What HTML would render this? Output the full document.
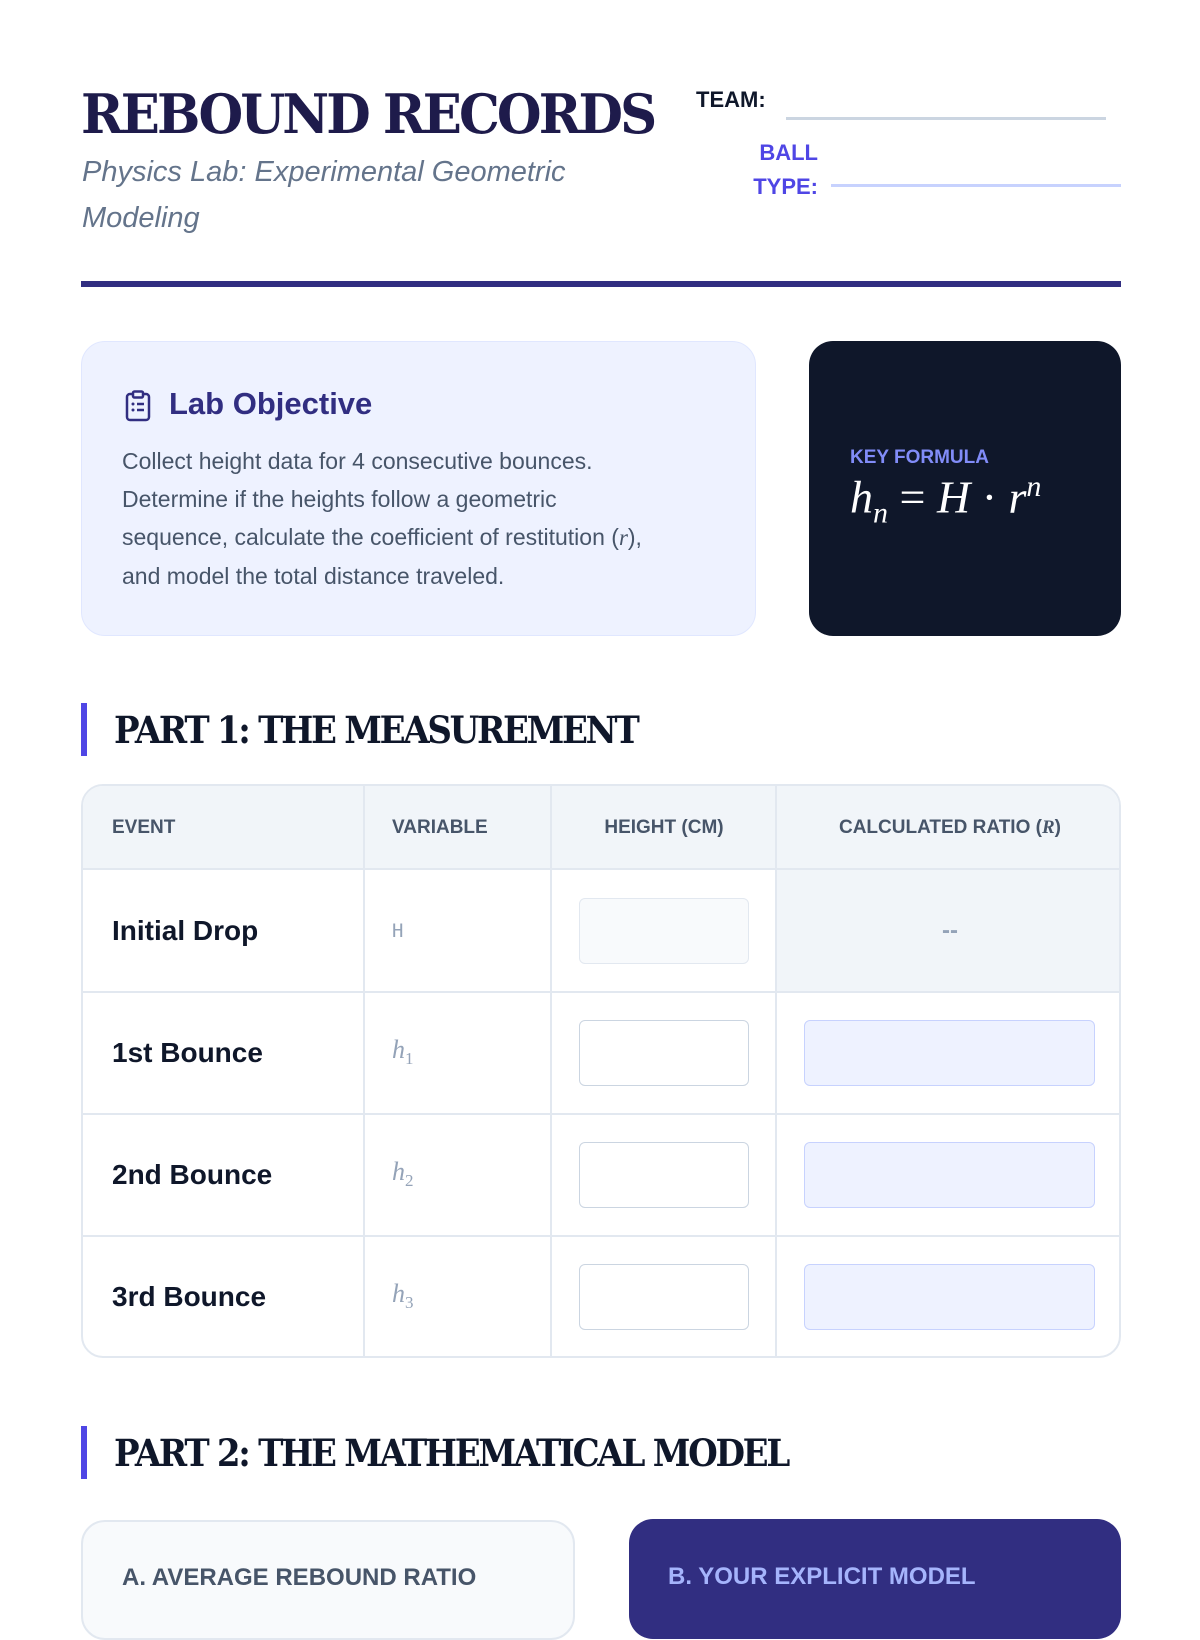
<!DOCTYPE html>
<html><head><meta charset="utf-8">
<style>
*{margin:0;padding:0;box-sizing:border-box}
body{width:1200px;height:1600px;background:#fff;position:relative;overflow:hidden;font-family:"Liberation Sans",sans-serif}
.a{position:absolute}
.slab{font-family:"DejaVu Serif","Liberation Serif",serif;font-weight:bold}
.math{font-family:"Liberation Serif",serif;font-style:italic}
.cell{position:absolute;display:flex;align-items:center}
.inp{position:absolute;border:1.5px solid #cbd5e1;border-radius:6px;background:#fff}
.rinp{position:absolute;border:1.5px solid #c7d2fe;border-radius:6px;background:#eef2ff}
</style></head><body>
<div class="a slab" style="left:81px;top:82px;font-size:54px;color:#1e1b4b;letter-spacing:-3px;transform:scaleX(0.95);transform-origin:left">REBOUND RECORDS</div>
<div class="a" style="left:82px;top:149px;font-size:29px;font-style:italic;color:#64748b;line-height:46px;width:560px">Physics Lab: Experimental Geometric<br>Modeling</div>
<div class="a" style="left:696px;top:87px;font-size:22px;font-weight:bold;color:#0f172a">TEAM:</div>
<div class="a" style="left:786px;top:117px;width:320px;height:3px;background:#cbd5e1"></div>
<div class="a" style="left:740px;top:136px;font-size:22px;font-weight:bold;color:#4f46e5;text-align:right;width:78px;line-height:34px">BALL<br>TYPE:</div>
<div class="a" style="left:831px;top:184px;width:290px;height:3px;background:#c7d2fe"></div>
<div class="a" style="left:81px;top:281px;width:1040px;height:6px;background:#312e81"></div>

<div class="a" style="left:81px;top:341px;width:675px;height:295px;background:#eef2ff;border:1.5px solid #e0e7ff;border-radius:24px"></div>
<svg class="a" style="left:124px;top:390px" width="28" height="32" viewBox="0 0 28 32"><rect x="3" y="4" width="22" height="26" rx="3" fill="none" stroke="#312e81" stroke-width="2.5"/><rect x="9" y="1.5" width="10" height="6" rx="1.5" fill="#eef2ff" stroke="#312e81" stroke-width="2.5"/><circle cx="9" cy="14" r="1.5" fill="#312e81"/><circle cx="9" cy="20" r="1.5" fill="#312e81"/><line x1="13" y1="14" x2="20" y2="14" stroke="#312e81" stroke-width="2.5"/><line x1="13" y1="20" x2="20" y2="20" stroke="#312e81" stroke-width="2.5"/></svg>
<div class="a" style="left:169px;top:386px;font-size:31px;font-weight:bold;color:#312e81">Lab Objective</div>
<div class="a" style="left:122px;top:442px;font-size:23px;color:#475569;line-height:38px;width:620px">Collect height data for 4 consecutive bounces.<br>Determine if the heights follow a geometric<br>sequence, calculate the coefficient of restitution (<span class="math">r</span>),<br>and model the total distance traveled.</div>

<div class="a" style="left:809px;top:341px;width:312px;height:295px;background:#0f172a;border-radius:24px"></div>
<div class="a" style="left:850px;top:447px;font-size:19px;font-weight:bold;color:#818cf8">KEY FORMULA</div>
<div class="a math" style="left:850px;top:470px;font-size:46px;color:#fff;white-space:nowrap">h<sub style="font-size:30px">n</sub> <span style="font-style:normal">=</span> H <span style="font-style:normal">·</span> r<sup style="font-size:30px">n</sup></div>

<div class="a" style="left:81px;top:703px;width:6px;height:53px;background:#4f46e5"></div>
<div class="a slab" style="left:114px;top:708px;font-size:37px;color:#0f172a;letter-spacing:-2.5px;white-space:nowrap;transform:scaleX(0.92);transform-origin:left">PART 1: THE MEASUREMENT</div>

<div class="a" style="left:81px;top:784px;width:1040px;height:574px;border:2px solid #e2e8f0;border-radius:22px;overflow:hidden;background:#fff">
 <div class="a" style="left:0;top:0;width:1040px;height:84px;background:#f1f5f9;border-bottom:2px solid #e2e8f0"></div>
 <div class="a" style="left:693px;top:84px;width:347px;height:121px;background:#f1f5f9"></div>
 <div class="a" style="left:0;top:205px;width:1040px;height:2px;background:#e2e8f0"></div>
 <div class="a" style="left:0;top:327px;width:1040px;height:2px;background:#e2e8f0"></div>
 <div class="a" style="left:0;top:449px;width:1040px;height:2px;background:#e2e8f0"></div>
 <div class="a" style="left:280px;top:0;width:2px;height:574px;background:#e2e8f0"></div>
 <div class="a" style="left:467px;top:0;width:2px;height:574px;background:#e2e8f0"></div>
 <div class="a" style="left:692px;top:0;width:2px;height:574px;background:#e2e8f0"></div>
 <div class="cell" style="left:29px;top:0;height:84px;font-size:19px;font-weight:bold;color:#475569">EVENT</div>
 <div class="cell" style="left:309px;top:0;height:84px;font-size:19px;font-weight:bold;color:#475569">VARIABLE</div>
 <div class="cell" style="left:469px;width:224px;justify-content:center;top:0;height:84px;font-size:19px;font-weight:bold;color:#475569">HEIGHT (CM)</div>
 <div class="cell" style="left:694px;width:346px;justify-content:center;top:0;height:84px;font-size:19px;font-weight:bold;color:#475569"><span>CALCULATED RATIO (<span class="math">R</span>)</span></div>
 <div class="cell" style="left:29px;top:84px;height:121px;font-size:28px;font-weight:bold;color:#0f172a">Initial Drop</div>
 <div class="cell" style="left:29px;top:206px;height:121px;font-size:28px;font-weight:bold;color:#0f172a">1st Bounce</div>
 <div class="cell" style="left:29px;top:328px;height:121px;font-size:28px;font-weight:bold;color:#0f172a">2nd Bounce</div>
 <div class="cell" style="left:29px;top:450px;height:121px;font-size:28px;font-weight:bold;color:#0f172a">3rd Bounce</div>
 <div class="cell" style="left:309px;top:84px;height:121px;font-size:19px;color:#94a3b8;font-family:'DejaVu Sans Mono',monospace">H</div>
 <div class="cell math" style="left:309px;top:206px;height:121px;font-size:26px;color:#94a3b8"><span>h<sub style="font-size:17px;font-style:normal">1</sub></span></div>
 <div class="cell math" style="left:309px;top:328px;height:121px;font-size:26px;color:#94a3b8"><span>h<sub style="font-size:17px;font-style:normal">2</sub></span></div>
 <div class="cell math" style="left:309px;top:450px;height:121px;font-size:26px;color:#94a3b8"><span>h<sub style="font-size:17px;font-style:normal">3</sub></span></div>
 <div class="cell" style="left:694px;width:346px;justify-content:center;top:84px;height:121px;font-size:24px;font-weight:bold;color:#94a3b8">--</div>
 <div class="inp" style="left:496px;top:112px;width:170px;height:66px;background:#f8fafc;border-color:#e2e8f0"></div>
 <div class="inp" style="left:496px;top:234px;width:170px;height:66px"></div>
 <div class="inp" style="left:496px;top:356px;width:170px;height:66px"></div>
 <div class="inp" style="left:496px;top:478px;width:170px;height:66px"></div>
 <div class="rinp" style="left:721px;top:234px;width:291px;height:66px"></div>
 <div class="rinp" style="left:721px;top:356px;width:291px;height:66px"></div>
 <div class="rinp" style="left:721px;top:478px;width:291px;height:66px"></div>
</div>

<div class="a" style="left:81px;top:1426px;width:6px;height:53px;background:#4f46e5"></div>
<div class="a slab" style="left:114px;top:1431px;font-size:37px;color:#0f172a;letter-spacing:-2.5px;white-space:nowrap;transform:scaleX(0.92);transform-origin:left">PART 2: THE MATHEMATICAL MODEL</div>

<div class="a" style="left:81px;top:1520px;width:494px;height:120px;background:#f8fafc;border:2px solid #e2e8f0;border-radius:24px"></div>
<div class="a" style="left:122px;top:1564px;font-size:24px;font-weight:bold;color:#475569">A. AVERAGE REBOUND RATIO</div>
<div class="a" style="left:629px;top:1519px;width:492px;height:120px;background:#312e81;border-radius:24px"></div>
<div class="a" style="left:668px;top:1563px;font-size:24px;font-weight:bold;color:#a5b4fc">B. YOUR EXPLICIT MODEL</div>
</body></html>
